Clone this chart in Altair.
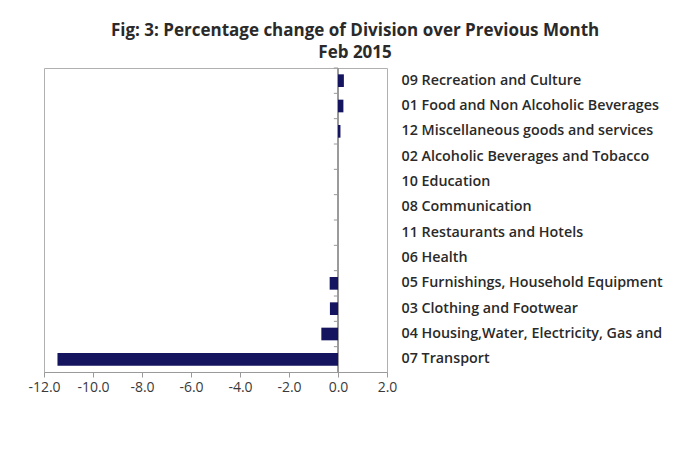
import altair as alt
import pandas as pd

categories = [
    "09 Recreation and Culture",
    "01 Food and Non Alcoholic Beverages",
    "12 Miscellaneous goods and services",
    "02 Alcoholic Beverages and Tobacco",
    "10 Education",
    "08 Communication",
    "11 Restaurants and Hotels",
    "06 Health",
    "05 Furnishings, Household Equipment",
    "03 Clothing and Footwear",
    "04 Housing,Water, Electricity, Gas and",
    "07 Transport",
]
values = [0.24, 0.22, 0.10, 0.0, 0.0, 0.0, 0.0, 0.0, -0.34, -0.33, -0.68, -11.45]
x_ticks = [-12, -10, -8, -6, -4, -2, 0, 2]

df = pd.DataFrame({"category": categories, "value": values})

W, H = 343, 304
p_inner = 0.5
step = H / len(categories)

yscale = alt.Scale(paddingInner=p_inner, paddingOuter=p_inner / 2)

base = alt.Chart(df)

bars = base.mark_bar(color="#14145f").encode(
    x=alt.X(
        "value:Q",
        scale=alt.Scale(domain=[-12, 2], nice=False),
        axis=alt.Axis(
            values=x_ticks,
            labelExpr="replace(format(datum.value, '.1f'), '\u2212', '-')",
            grid=False,
            domainColor="#9a9a9a",
            tickColor="#9a9a9a",
            tickSize=5,
            labelFontSize=14,
            labelColor="#3a3a3a",
            labelPadding=3,
            labelOverlap=False,
            labelFlush=False,
            title=None,
        ),
    ),
    y=alt.Y(
        "category:N",
        sort=None,
        scale=yscale,
        axis=alt.Axis(
            orient="right",
            ticks=False,
            domain=False,
            labelPadding=14,
            labelAlign="left",
            labelFontSize=14.3,
            labelFontWeight=600,
            labelColor="#2a2a2a",
            labelLimit=262,
            title=None,
        ),
    ),
)

zero_line = alt.Chart(df).mark_rule(color="#9a9a9a").encode(x=alt.datum(0))

cat_ticks = base.mark_rule(color="#9a9a9a", yOffset=-step * p_inner / 2).encode(
    x=alt.datum(0),
    x2=alt.datum(-0.17),
    y=alt.Y("category:N", sort=None, bandPosition=0),
)

chart = (
    alt.layer(zero_line, cat_ticks, bars)
    .properties(
        width=W,
        height=H,
        title=alt.TitleParams(
            ["Fig: 3: Percentage change of Division over Previous Month", "Feb 2015"],
            fontSize=17,
            fontWeight="bold",
            color="#2a2a2a",
            anchor="middle",
            frame="bounds",
            dx=10,
            offset=6,
            lineHeight=22,
        ),
        padding={"left": 19, "top": 13, "right": 0, "bottom": 5},
    )
    .configure(font="Open Sans")
    .configure_view(stroke="#b0b0b0", strokeWidth=1)
)

chart.save("out.html", embed_options={"renderer": "svg", "actions": False})
